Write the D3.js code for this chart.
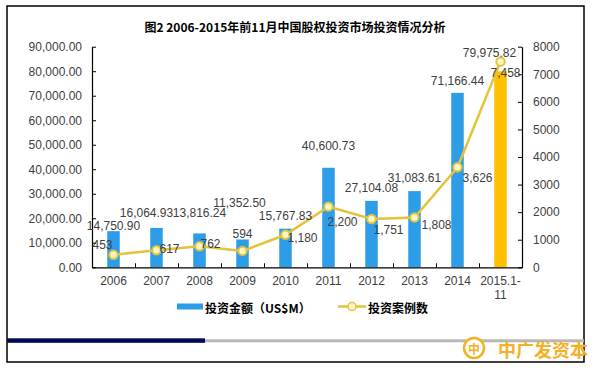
<html>
<head>
<meta charset="utf-8">
<script src="https://d3js.org/d3.v7.min.js"></script>
<style>
body { margin: 0; background: #fff; }
svg text { font-family: "Liberation Sans", Arial, sans-serif; }
.cjk { font-family: "Noto Sans CJK SC", sans-serif; font-weight: bold; }
.axis path, .axis line { stroke: #000; }
.axis text { fill: #404040; font-size: 12px; }
.lbl { fill: #404040; font-size: 12px; }
</style>
</head>
<body>
<svg width="595" height="371"></svg>
<script>
// data
var years = ["2006", "2007", "2008", "2009", "2010", "2011", "2012", "2013", "2014", "2015.1-11"];
var amounts = [14750.90, 16064.93, 13816.24, 11352.50, 15767.83, 40600.73, 27104.08, 31083.61, 71166.44, 79975.82];
var cases = [453, 617, 762, 594, 1180, 2200, 1751, 1808, 3626, 7458];
var leftTicks = [0, 10000, 20000, 30000, 40000, 50000, 60000, 70000, 80000, 90000];
var rightTicks = [0, 1000, 2000, 3000, 4000, 5000, 6000, 7000, 8000];

// label nudges (hand placed in the original)
var amtNudge = [[0,-5],[-10,-15],[0,-20],[-3,-36],[0,-13],[0,-22],[0,-13],[0,-13],[0,-12],[-11,-18]];
var caseNudge = [[-11,-10],[13,-1],[11,-2],[0,-17],[17,3],[14,15],[17,11],[22,8],[20,11],[5,11]];

var svg = d3.select("svg");
var pLeft = 92, pRight = 522, pTop = 46.7, pBottom = 267.3;

svg.append("rect").attr("x", 7).attr("y", 6).attr("width", 577).attr("height", 356)
   .attr("fill", "#fff").attr("stroke", "#000").attr("stroke-width", 1.5);

svg.append("text").attr("class", "cjk").attr("x", 295).attr("y", 26)
   .attr("text-anchor", "middle").attr("dominant-baseline", "central")
   .attr("font-size", "12px").attr("fill", "#000")
   .text("图2 2006-2015年前11月中国股权投资市场投资情况分析");

var x = d3.scaleBand().domain(years).range([pLeft, pRight]);
var yL = d3.scaleLinear().domain([0, 90000]).range([pBottom, pTop]);
var yR = d3.scaleLinear().domain([0, 8000]).range([pBottom, pTop]);
var bw = 12.5;

// bars
svg.append("g").selectAll("rect").data(amounts).enter().append("rect")
   .attr("x", function(d, i) { return x(years[i]) + x.bandwidth() / 2 - bw / 2; })
   .attr("y", function(d) { return yL(d); })
   .attr("width", bw)
   .attr("height", function(d) { return pBottom - yL(d); })
   .attr("fill", function(d, i) { return i == years.length - 1 ? "#ffc000" : "#2e9de8"; });

// axes
svg.append("g").attr("class", "axis").attr("transform", "translate(" + pLeft + ",0)")
   .call(d3.axisLeft(yL).tickValues(leftTicks).tickFormat(d3.format(",.2f")).tickSizeInner(-4).tickSizeOuter(0).tickPadding(10))
   .call(function(g) { g.select(".domain").attr("stroke-width", 1.2); });

svg.append("g").attr("class", "axis").attr("transform", "translate(" + pRight + ",0)")
   .call(d3.axisRight(yR).tickValues(rightTicks).tickFormat(d3.format("d")).tickSizeInner(-4).tickSizeOuter(0).tickPadding(11))
   .call(function(g) { g.select(".domain").attr("stroke-width", 1.2); });

var xb = d3.scaleLinear().domain([0, years.length]).range([pLeft, pRight]);
svg.append("g").attr("class", "axis").attr("transform", "translate(0," + pBottom + ")")
   .call(d3.axisBottom(xb).tickValues(d3.range(years.length + 1)).tickFormat("").tickSizeInner(-4).tickSizeOuter(0))
   .call(function(g) { g.select(".domain").attr("stroke-width", 1.2); });

svg.append("g").attr("class", "axis").attr("transform", "translate(0," + pBottom + ")")
   .call(d3.axisBottom(x).tickSize(0).tickPadding(9))
   .call(function(g) {
     g.select(".domain").remove();
     g.selectAll(".tick text").each(function(d) {
       var t = d3.select(this);
       if (d.indexOf(".") > 0) {
         var parts = ["2015.1-", "11"];
         t.text(null);
         t.append("tspan").attr("x", 0).text(parts[0]);
         t.append("tspan").attr("x", 0).attr("dy", "1.2em").text(parts[1]);
       }
     });
   });

// line
var lineColor = "#e4c23b";
var line = d3.line()
   .x(function(d, i) { return x(years[i]) + x.bandwidth() / 2; })
   .y(function(d) { return yR(d); });
svg.append("path").datum(cases).attr("d", line)
   .attr("fill", "none").attr("stroke", lineColor).attr("stroke-width", 2.5);
svg.append("g").selectAll("circle").data(cases).enter().append("circle")
   .attr("cx", function(d, i) { return x(years[i]) + x.bandwidth() / 2; })
   .attr("cy", function(d) { return yR(d); })
   .attr("r", 4.2)
   .attr("fill", "#fdf7c8").attr("stroke", lineColor).attr("stroke-width", 2);

// value labels
svg.append("g").selectAll("text").data(amounts).enter().append("text")
   .attr("class", "lbl").attr("text-anchor", "middle").attr("dominant-baseline", "central")
   .attr("x", function(d, i) { return x(years[i]) + x.bandwidth() / 2 + amtNudge[i][0]; })
   .attr("y", function(d, i) { return yL(d) + amtNudge[i][1]; })
   .text(function(d) { return d3.format(",.2f")(d); });

svg.append("g").selectAll("text").data(cases).enter().append("text")
   .attr("class", "lbl").attr("text-anchor", "middle").attr("dominant-baseline", "central")
   .attr("x", function(d, i) { return x(years[i]) + x.bandwidth() / 2 + caseNudge[i][0]; })
   .attr("y", function(d, i) { return yR(d) + caseNudge[i][1]; })
   .text(function(d) { return d3.format(",")(d); });

// legend
var lg = svg.append("g");
lg.append("rect").attr("x", 177).attr("y", 303.5).attr("width", 26).attr("height", 6).attr("fill", "#2e9de8");
lg.append("text").attr("class", "cjk").attr("x", 205).attr("y", 307).attr("dominant-baseline", "central")
  .attr("font-size", "12px").attr("fill", "#000").text("投资金额（US$M）");
lg.append("line").attr("x1", 338).attr("x2", 366).attr("y1", 306.5).attr("y2", 306.5)
  .attr("stroke", lineColor).attr("stroke-width", 2.5);
lg.append("circle").attr("cx", 352).attr("cy", 306.5).attr("r", 4)
  .attr("fill", "#fdf7c8").attr("stroke", lineColor).attr("stroke-width", 1.5);
lg.append("text").attr("class", "cjk").attr("x", 368).attr("y", 307).attr("dominant-baseline", "central")
  .attr("font-size", "12px").attr("fill", "#000").text("投资案例数");

// footer stripes
svg.append("rect").attr("x", 7).attr("y", 339.3).attr("width", 577).attr("height", 3).attr("fill", "#b8b8b8");
svg.append("rect").attr("x", 7).attr("y", 338.3).attr("width", 198).attr("height", 4.5).attr("fill", "#000a55");

// logo
var logo = svg.append("g").attr("transform", "translate(474,348)");
logo.append("circle").attr("r", 10).attr("fill", "#fff").attr("stroke", "#f3b225").attr("stroke-width", 2.5);
logo.append("text").attr("class", "cjk").attr("text-anchor", "middle").attr("dominant-baseline", "central")
  .attr("font-size", "12px").attr("fill", "#f3b225").text("中");
svg.append("text").attr("class", "cjk").attr("x", 498).attr("y", 349).attr("dominant-baseline", "central")
  .attr("font-size", "18px").attr("fill", "#f3b225").text("中广发资本");
</script>
</body>
</html>
